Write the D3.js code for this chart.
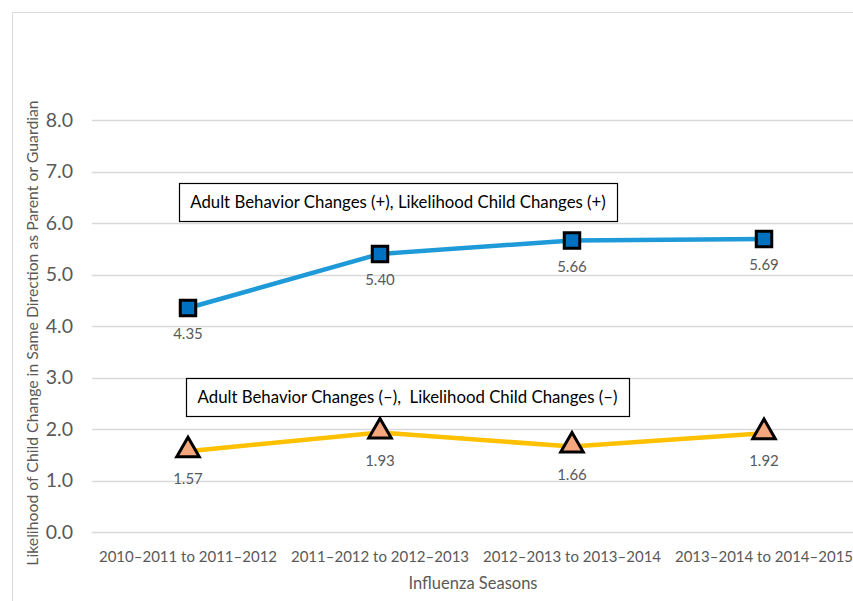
<!DOCTYPE html>
<html>
<head>
<meta charset="utf-8">
<script src="https://cdn.jsdelivr.net/npm/d3@7"></script>
<style>
  body { margin: 0; background: #fff; }
  svg { font-family: Lato, "Open Sans", sans-serif; }
  text { white-space: pre; }
</style>
</head>
<body>
<svg id="chart" width="853" height="601"></svg>
<script>
// data
var seasons = ['2010–2011 to 2011–2012', '2011–2012 to 2012–2013', '2012–2013 to 2013–2014', '2013–2014 to 2014–2015'];
var positiveValues = [4.35, 5.40, 5.66, 5.69];
var negativeValues = [1.57, 1.93, 1.66, 1.92];
var yTicks = [0, 1, 2, 3, 4, 5, 6, 7, 8];
var positiveNote = 'Adult Behavior Changes (+), Likelihood Child Changes (+)';
var negativeNote = 'Adult Behavior Changes (–),  Likelihood Child Changes (–)';

var svg = d3.select('#chart');

// frame of the chart area (only top and left show in the picture)
svg.append('path')
  .attr('d', 'M12.5,601 V12.5 H853')
  .attr('fill', 'none')
  .attr('stroke', '#d9d9d9')
  .attr('stroke-width', 1);

var plotLeft = 92, plotRight = 860, plotTop = 120, plotBottom = 532;

var x = d3.scaleBand().domain(seasons).range([plotLeft, plotRight]);
var y = d3.scaleLinear().domain([0, 8]).range([plotBottom, plotTop]);

// gridlines
svg.append('g')
  .selectAll('line')
  .data(yTicks)
  .join('line')
    .attr('x1', plotLeft)
    .attr('x2', plotRight)
    .attr('y1', function(d){ return Math.round(y(d)) + 0.5; })
    .attr('y2', function(d){ return Math.round(y(d)) + 0.5; })
    .attr('stroke', '#d9d9d9')
    .attr('stroke-width', 1.3);

// y axis
var yAxis = svg.append('g')
  .attr('transform', 'translate(' + plotLeft + ',0)')
  .call(d3.axisLeft(y).tickValues(yTicks).tickFormat(d3.format('.1f')).tickSize(0).tickPadding(19));
yAxis.select('.domain').remove();
yAxis.selectAll('text')
  .attr('fill', '#595959')
  .style('font-size', '19.5px')
  .style('font-family', 'Lato, sans-serif');

// x axis
var xAxis = svg.append('g')
  .attr('transform', 'translate(0,' + plotBottom + ')')
  .call(d3.axisBottom(x).tickSize(0).tickPadding(19));
xAxis.select('.domain').remove();
xAxis.selectAll('text')
  .attr('fill', '#595959')
  .style('font-size', '15px')
  .style('font-family', 'Lato, sans-serif');

// axis titles
svg.append('text')
  .attr('x', 473)
  .attr('y', 589)
  .attr('text-anchor', 'middle')
  .attr('fill', '#595959')
  .style('font-size', '16.5px')
  .text('Influenza Seasons');

svg.append('text')
  .attr('transform', 'translate(38,333) rotate(-90)')
  .attr('text-anchor', 'middle')
  .attr('fill', '#595959')
  .style('font-size', '15.8px')
  .text('Likelihood of Child Change in Same Direction as Parent or Guardian');

var cx = function(i){ return x(seasons[i]) + x.bandwidth() / 2; };

function drawSeries(values, color, shape, fill, labelDy){
  var line = d3.line()
    .x(function(d, i){ return cx(i); })
    .y(function(d){ return y(d); });

  svg.append('path')
    .datum(values)
    .attr('d', line)
    .attr('fill', 'none')
    .attr('stroke', color)
    .attr('stroke-width', 4.5);

  var sym = d3.symbol().type(shape).size(shape === d3.symbolSquare ? 240 : 220);
  svg.append('g')
    .selectAll('path')
    .data(values)
    .join('path')
      .attr('d', sym)
      .attr('transform', function(d, i){
        var dy = shape === d3.symbolTriangle ? -1 : 0;
        return 'translate(' + cx(i) + ',' + (y(d) + dy) + ')';
      })
      .attr('fill', fill)
      .attr('stroke', '#000')
      .attr('stroke-width', 3);

  svg.append('g')
    .selectAll('text')
    .data(values)
    .join('text')
      .attr('x', function(d, i){ return cx(i); })
      .attr('y', function(d){ return y(d) + labelDy; })
      .attr('text-anchor', 'middle')
      .attr('fill', '#595959')
      .style('font-size', '15px')
      .text(function(d){ return d3.format('.2f')(d); });
}

drawSeries(positiveValues, '#1e9ad8', d3.symbolSquare, '#0070c0', 31);
drawSeries(negativeValues, '#ffc000', d3.symbolTriangle, '#f4a67c', 33);

// annotation boxes
function note(text, x0, y0, w, h){
  svg.append('rect')
    .attr('x', x0 + 0.5)
    .attr('y', y0 + 0.5)
    .attr('width', w)
    .attr('height', h)
    .attr('fill', '#fff')
    .attr('stroke', '#000')
    .attr('stroke-width', 1.2);
  svg.append('text')
    .attr('x', x0 + w / 2)
    .attr('y', y0 + h / 2 + 6)
    .attr('text-anchor', 'middle')
    .attr('fill', '#000')
    .style('font-size', '16.8px')
    .text(text);
}

note(positiveNote, 179, 183, 438, 38);
note(negativeNote, 186, 378, 443, 38);
</script>
</body>
</html>
